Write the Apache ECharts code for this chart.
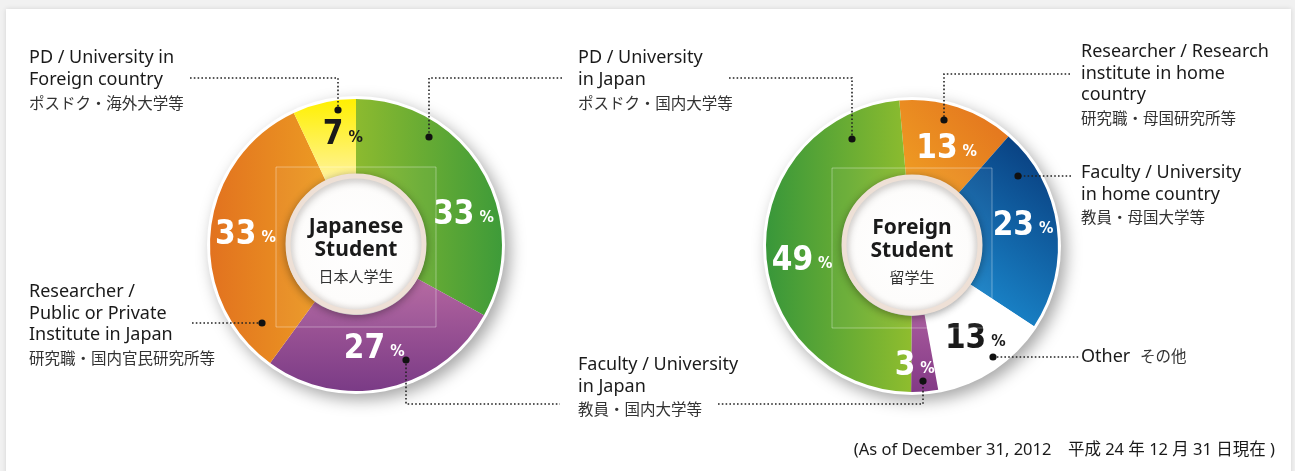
<!DOCTYPE html>
<html>
<head>
<meta charset="utf-8">
<script src="https://cdn.jsdelivr.net/npm/echarts@6/dist/echarts.min.js"></script>
<style>
  html, body { margin: 0; padding: 0; background: #f1f1f1; }
  #wrap { position: relative; width: 1295px; height: 471px; overflow: hidden; }
  #card { position: absolute; left: 6px; top: 9px; width: 1285px; height: 490px; background: #fff; box-shadow: 0 0 5px rgba(0,0,0,0.12); }
  #chart { position: absolute; left: 0; top: 0; width: 1295px; height: 471px; }
</style>
</head>
<body>
<div id="wrap"><div id="card"></div><div id="chart"></div></div>
<script>
// ─── data ───
const jpCategories = ['PD / University in Japan', 'Faculty / University in Japan',
  'Researcher / Public or Private Institute in Japan', 'PD / University in Foreign country'];
const jpValues = [33, 27, 33, 7];

const fgCategories = ['Researcher / Research institute in home country', 'Faculty / University in home country',
  'Other', 'Faculty / University in Japan', 'PD / University in Japan'];
const fgValues = [13, 23, 13, 3, 49];

// ─── styles ───
const FONT = "'Noto Sans', 'Noto Sans CJK JP', sans-serif";
const NUM_FONT = "'DejaVu Sans Condensed', 'Noto Sans', sans-serif";
const INK = '#1a1a1a';

function lg(x, y, x2, y2, c1, c2) {
  return new echarts.graphic.LinearGradient(x, y, x2, y2, [{ offset: 0, color: c1 }, { offset: 1, color: c2 }]);
}

const jpColors = [
  lg(0, 0, 1, 0, '#8cba2f', '#3e9b39'),
  lg(0, 0, 0, 1, '#b3649f', '#7a3b86'),
  lg(0, 0, 1, 0, '#e2721f', '#ec9b23'),
  lg(0, 0, 0, 1, '#fff000', '#fff39e'),
];
const jpLabelColors = ['#fff', '#fff', '#fff', INK];
const jpLabelShift = [[12, 26], [-6, -4], [0, 0], [11, -2]];

const fgColors = [
  lg(1, 0, 0, 1, '#e2701e', '#f0a023'),
  lg(0, 0.9, 1, 0.2, '#1b8bd0', '#0a4384'),
  '#ffffff',
  lg(0, 0, 0, 1, '#a7599c', '#833a86'),
  lg(0, 0, 1, 0, '#38973a', '#8fbd2e'),
];
const fgLabelColors = ['#fff', '#fff', INK, '#fff', '#fff'];
const fgLabelShift = [[0, 8], [1, -5], [2, 0], [-7, 9], [1, 10]];

const JP_C = [356, 245];
const FG_C = [912, 246];
const R_IN = 70, R_OUT = 146;

function pieSeries(name, center, values, cats, colors, labelColors, shifts, startAngle) {
  return {
    type: 'pie', name, center, radius: [R_IN, R_OUT], startAngle, clockwise: true,
    silent: true, z: 2, avoidLabelOverlap: false,
    label: {
      show: true, position: 'inside',
      formatter: (p) => `{n|${p.value}}{p|%}`,
      rich: {
        n: { fontFamily: NUM_FONT, fontWeight: 'bold', fontSize: 33, lineHeight: 34, verticalAlign: 'bottom' },
        p: { fontFamily: NUM_FONT, fontWeight: 'bold', fontSize: 16, lineHeight: 16, verticalAlign: 'bottom', padding: [0, 0, 6, 5] },
      },
    },
    labelLine: { show: false },
    labelLayout: (p) => ({ dx: shifts[p.dataIndex][0], dy: shifts[p.dataIndex][1] }),
    itemStyle: { borderWidth: 0 },
    data: values.map((v, i) => ({
      name: cats[i], value: v,
      itemStyle: { color: colors[i] },
      label: { color: labelColors[i] },
    })),
  };
}

// ─── decorations: ring backdrop, faint square, inner disc, centre titles ───
function donutDecor(c, title1, title2, jp) {
  return [
    { type: 'circle', z: 0, shape: { cx: c[0], cy: c[1], r: R_OUT + 3 },
      style: { fill: '#fff', shadowBlur: 16, shadowOffsetX: 5, shadowOffsetY: 6, shadowColor: 'rgba(0,0,0,0.35)' } },
    { type: 'rect', z: 10, shape: { x: c[0] - 80, y: c[1] - 78, width: 160, height: 160 },
      style: { fill: 'rgba(255,255,255,0.04)', stroke: 'rgba(255,255,255,0.35)', lineWidth: 1 } },
    { type: 'circle', z: 11, shape: { cx: c[0], cy: c[1] - 1, r: R_IN - 2 },
      style: {
        fill: new echarts.graphic.RadialGradient(0.5, 0.5, 0.5, [{ offset: 0, color: '#ffffff' }, { offset: 0.85, color: '#fdfcfb' }, { offset: 1, color: '#f3ede9' }]),
        stroke: '#eee0d6', lineWidth: 5,
        shadowBlur: 8, shadowOffsetY: 2, shadowColor: 'rgba(0,0,0,0.3)',
      } },
    { type: 'text', z: 12, style: { x: c[0], y: c[1] - 18, text: title1, align: 'center', verticalAlign: 'middle', fill: INK, font: `bold 21px ${FONT}` } },
    { type: 'text', z: 12, style: { x: c[0], y: c[1] + 5, text: title2, align: 'center', verticalAlign: 'middle', fill: INK, font: `bold 21px ${FONT}` } },
    { type: 'text', z: 12, style: { x: c[0], y: c[1] + 33, text: jp, align: 'center', verticalAlign: 'middle', fill: '#333', font: `15px ${FONT}` } },
  ];
}

// ─── annotation text blocks ───
function block(x, y, lines, jp, jpY) {
  const out = lines.map((t, i) => ({
    type: 'text', z: 12,
    style: { x, y: y + i * 21.5, text: t, verticalAlign: 'middle', fill: INK, font: `18px ${FONT}` },
  }));
  if (jp) out.push({ type: 'text', z: 12, style: { x, y: jpY, text: jp, verticalAlign: 'middle', fill: '#333', font: `15.5px ${FONT}` } });
  return out;
}

function leader(points, dot) {
  return [
    { type: 'polyline', z: 12, shape: { points },
      style: { stroke: '#222', lineWidth: 1.6, lineDash: [1.6, 2.2], fill: null } },
    { type: 'circle', z: 13, shape: { cx: dot[0], cy: dot[1], r: 3.6 }, style: { fill: '#111' } },
  ];
}

const graphics = [
  ...donutDecor(JP_C, 'Japanese', 'Student', '日本人学生'),
  ...donutDecor(FG_C, 'Foreign', 'Student', '留学生'),

  ...block(29, 58, ['PD / University in', 'Foreign country'], 'ポスドク・海外大学等', 105),
  ...block(29, 292, ['Researcher /', 'Public or Private', 'Institute in Japan'], '研究職・国内官民研究所等', 360),
  ...block(578, 58, ['PD / University', 'in Japan'], 'ポスドク・国内大学等', 105),
  ...block(578, 365, ['Faculty / University', 'in Japan'], '教員・国内大学等', 411),
  ...block(1081, 52, ['Researcher / Research', 'institute in home', 'country'], '研究職・母国研究所等', 120),
  ...block(1081, 173, ['Faculty / University', 'in home country'], '教員・母国大学等', 219),
  { type: 'text', z: 12, style: { x: 1081, y: 357, text: 'Other', verticalAlign: 'middle', fill: INK, font: `18px ${FONT}` } },
  { type: 'text', z: 12, style: { x: 1140, y: 358, text: 'その他', verticalAlign: 'middle', fill: '#333', font: `15.5px ${FONT}` } },
  { type: 'text', z: 12, style: { x: 1275, y: 450, text: '(As of December 31, 2012\u3000平成 24 年 12 月 31 日現在 )', align: 'right', verticalAlign: 'middle', fill: INK, font: `16.5px ${FONT}` } },

  ...leader([[190, 78], [338, 78], [338, 110]], [338, 110]),
  ...leader([[192, 323], [262, 323]], [262, 323]),
  ...leader([[562, 78], [429, 78], [429, 137]], [429, 137]),
  ...leader([[729, 78], [852, 78], [852, 139]], [852, 139]),
  ...leader([[406, 360], [406, 404], [560, 404]], [406, 360]),
  ...leader([[718, 404], [923, 404], [923, 381]], [923, 381]),
  ...leader([[1070, 74], [944, 74], [944, 120]], [944, 120]),
  ...leader([[1071, 176], [1018, 176]], [1018, 176]),
  ...leader([[993, 357], [1079, 357]], [993, 357]),
];

const chart = echarts.init(document.getElementById('chart'), null, { renderer: 'canvas' });
chart.setOption({
  animation: false,
  backgroundColor: 'transparent',
  textStyle: { fontFamily: FONT },
  series: [
    pieSeries('Japanese Student', JP_C, jpValues, jpCategories, jpColors, jpLabelColors, jpLabelShift, 90),
    pieSeries('Foreign Student', FG_C, fgValues, fgCategories, fgColors, fgLabelColors, fgLabelShift, 95),
  ],
  graphic: graphics,
});
</script>
</body>
</html>
